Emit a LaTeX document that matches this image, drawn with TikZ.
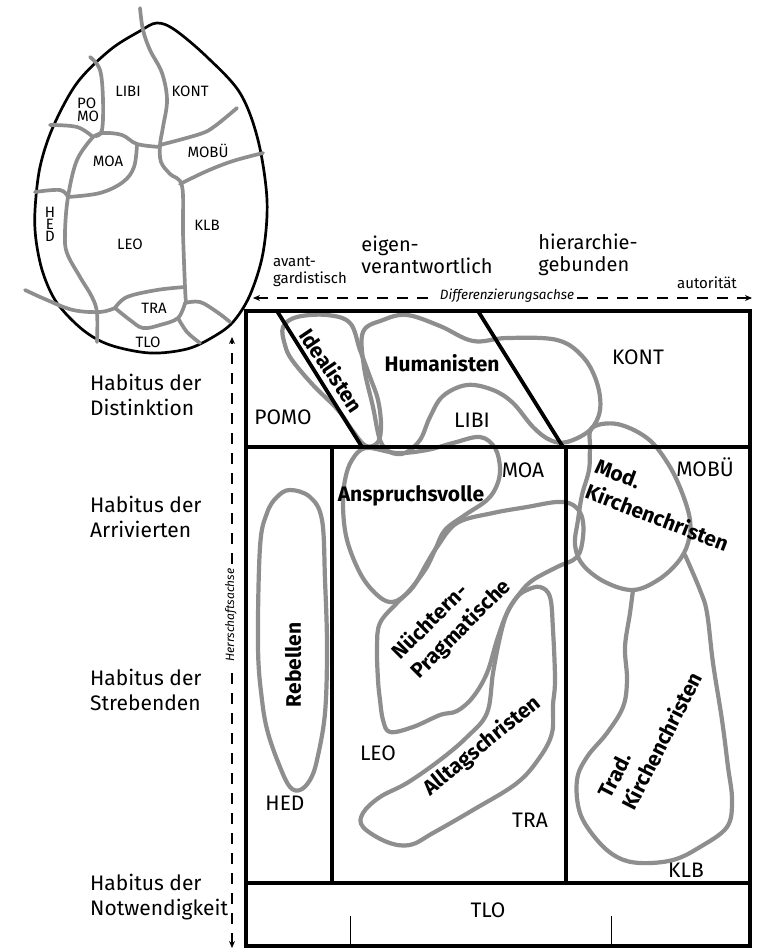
\documentclass[tikz,border=0pt]{standalone}
\usepackage{fontspec}
\setmainfont{Fira Sans}
\usetikzlibrary{arrows.meta}
\definecolor{blobgray}{HTML}{8E8E8E}
\begin{document}
\begin{tikzpicture}[x=1pt,y=-1pt,
  blob/.style={draw=blobgray,line width=4.2pt,line join=round,line cap=round},
  eggline/.style={draw=blobgray,line width=3.7pt,line cap=round,line join=round},
  frame/.style={draw=black,line width=4.2pt},
  axisline/.style={draw=black,line width=1.1pt,dash pattern=on 11pt off 9pt,{Stealth[length=7pt,width=6pt]}-{Stealth[length=7pt,width=6pt]}},
  lab/.style={font=\fontsize{21}{22}\selectfont,inner sep=0pt},
  blab/.style={font=\fontsize{21}{27}\selectfont\bfseries,inner sep=0pt,align=left},
  elab/.style={font=\fontsize{15}{15}\selectfont,inner sep=0pt},
  hlab/.style={font=\fontsize{21}{25}\selectfont,inner sep=0pt,align=left,anchor=west},
  toplab/.style={font=\fontsize{20}{22}\selectfont,inner sep=0pt,align=left},
  smlab/.style={font=\fontsize{15}{17}\selectfont,inner sep=0pt,align=left},
  axlab/.style={font=\fontsize{13.5}{14}\selectfont\itshape,inner sep=3pt,fill=white}]
\useasboundingbox (0,0) rectangle (757,952);

% ---------- egg ----------
\draw[line width=2.7pt,line join=round] plot[smooth cycle,tension=0.55] coordinates {
 (157,23) (175,30) (207,57) (240,93) (258,140) (267,200) (263,253) (250,295)
 (233,322) (213,337) (187,349) (150,353) (110,345) (83,330) (57,303) (43,273)
 (36,240) (35,210) (40,167) (53,127) (77,83) (110,50) (140,31)};
\draw[eggline] plot[smooth,tension=0.6] coordinates {(140,8) (143,30) (150,50) (162,73) (167,100) (163,127) (160,145) (161,162) (170,174) (182,186) (183,233) (185,287) (186,303)};
\draw[eggline] plot[smooth,tension=0.6] coordinates {(160,145) (200,134) (215,126) (237,108)};
\draw[eggline] plot[smooth,tension=0.6] coordinates {(180,184) (207,171) (233,161) (263,153)};
\draw[eggline] plot[smooth,tension=0.6] coordinates {(160,147) (137,144) (122,135) (103,133) (93,137)};
\draw[eggline] plot[smooth,tension=0.6] coordinates {(137,144) (134,167) (123,182) (100,193) (68,197)};
\draw[eggline] plot[smooth,tension=0.6] coordinates {(93,137) (77,160) (68,197) (65,233) (67,253) (80,277) (92,297) (97,313) (97,342)};
\draw[eggline] plot[smooth,tension=0.6] coordinates {(90,57) (100,70) (103,100) (102,130) (96,136)};
\draw[eggline] plot[smooth,tension=0.6] coordinates {(50,125) (77,127) (93,137)};
\draw[eggline] plot[smooth,tension=0.6] coordinates {(35,192) (60,190) (68,197)};
\draw[eggline] plot[smooth,tension=0.6] coordinates {(25,290) (47,300) (73,310) (100,312) (115,308)};
\draw[eggline] plot[smooth,tension=0.6] coordinates {(115,308) (127,297) (157,290) (185,287)};
\draw[eggline] plot[smooth,tension=0.6] coordinates {(115,308) (130,320) (143,328) (160,325) (178,318) (185,303)};
\draw[eggline] plot[smooth,tension=0.6] coordinates {(185,303) (200,302) (217,312) (230,322)};
\draw[eggline] plot[smooth,tension=0.6] coordinates {(178,318) (187,332) (200,343)};

\node[elab] (eLIBI) at (128,91) {LIBI};
\node[elab] (eKONT) at (190,91) {KONT};
\node[elab,align=left] (ePOMO) at (88,110) {PO\\[-2pt]MO};
\node[elab] (eMOA) at (108,161) {MOA};
\node[elab] (eMOBU) at (208,151) {MOBÜ};
\node[elab] (eKLB) at (207,225) {KLB};
\node[elab] (eLEO) at (130,244) {LEO};
\node[elab,align=center] (eHED) at (50,224) {H\\[-3pt]E\\[-3pt]D};
\node[elab] (eTRA) at (154,308) {TRA};
\node[elab] (eTLO) at (148,342) {TLO};

% ---------- header ----------
\node[smlab] (avant) at (310,272) {avant-\\gardistisch};
\node[toplab] (eigen) at (427,255) {eigen-\\verantwortlich};
\node[toplab] (hier) at (588,255) {hierarchie-\\gebunden};
\node[smlab] (auto) at (707,283) {autorität};
\coordinate (dL) at (253,298);
\coordinate (dR) at (752,298);
\draw[axisline] (dL) -- (dR);
\node[axlab] (diff) at (507,296) {Differenzierungsachse};

% ---------- vertical axis ----------
\coordinate (hT) at (232,337);
\coordinate (hB) at (232,948);
\draw[axisline] (hB) -- (hT);
\node[axlab,font=\fontsize{12}{12}\selectfont\itshape,rotate=90] (herr) at (231,615) {Herrschaftsachse};

\node[hlab] (h1) at (90,395) {Habitus der\\Distinktion};
\node[hlab] (h2) at (90,517) {Habitus der\\Arrivierten};
\node[hlab] (h3) at (90,690) {Habitus der\\Strebenden};
\node[hlab] (h4) at (90,897) {Habitus der\\Notwendigkeit};

% ---------- blobs ----------
\draw[blob] plot[smooth cycle,tension=0.6] coordinates {(283,327) (297,317) (327,315) (350,323) (360,350) (370,377) (378,400) (381,425) (378,442) (366,446) (352,430) (338,410) (313,385) (292,360) (285,345)};
\draw[blob] plot[smooth cycle,tension=0.6] coordinates {(363,332) (383,320) (407,315) (440,326) (473,341) (507,338) (557,340) (583,357) (597,383) (600,410) (590,430) (567,442) (550,440) (533,427) (513,403) (493,390) (467,385) (443,396) (430,417) (420,440) (405,453) (390,452) (380,440) (373,407) (364,367)};
\draw[blob] plot[smooth cycle,tension=0.6] coordinates {(352,460) (366,448) (397,453) (427,450) (453,443) (480,437) (495,448) (500,468) (497,485) (487,500) (465,515) (445,530) (435,550) (425,570) (405,595) (390,602) (375,593) (360,573) (347,540) (343,507) (345,480)};
\draw[blob] plot[smooth cycle,tension=0.6] coordinates {(437,547) (457,523) (493,513) (527,507) (557,502) (573,505) (582,517) (583,537) (577,557) (557,567) (533,580) (520,593) (507,613) (497,640) (487,673) (473,697) (457,711) (440,715) (413,727) (390,732) (383,720) (380,700) (378,680) (377,647) (380,623) (397,603) (413,587) (427,563)};
\draw[blob] plot[smooth cycle,tension=0.6] coordinates {(527,590) (540,587) (550,597) (553,630) (555,680) (553,705) (552,733) (540,757) (517,783) (473,810) (433,833) (410,845) (387,842) (363,827) (363,813) (380,797) (407,783) (440,760) (467,737) (487,713) (493,673) (500,637) (507,613) (517,597)};
\draw[blob] plot[smooth cycle,tension=0.6] coordinates {(290,490) (310,497) (322,520) (325,580) (327,647) (325,713) (317,760) (310,780) (300,790) (290,787) (280,767) (268,733) (262,700) (258,647) (260,547) (267,513) (277,497)};
\draw[blob] plot[smooth cycle,tension=0.6] coordinates {(592,428) (617,424) (647,438) (667,462) (681,490) (690,520) (688,543) (678,562) (658,580) (633,590) (605,582) (583,565) (575,545) (578,520) (582,495) (589,470) (590,448)};
\draw[blob] plot[smooth,tension=0.6] coordinates {(633,590) (630,613) (625,647) (627,680) (623,707) (607,733) (587,757) (577,780) (580,813) (597,840) (617,857) (640,863) (673,860) (700,847) (727,827) (732,800) (728,767) (722,720) (713,663) (707,613) (700,590) (685,555)};

% ---------- frame ----------
\draw[frame] (246,311) rectangle (750,946);
\draw[frame] (246,447) -- (750,447);
\draw[frame] (246,883) -- (750,883);
\draw[frame] (332,447) -- (332,883);
\draw[frame] (566,447) -- (566,883);
\draw[line width=3.8pt] (277,311) -- (362,447);
\draw[line width=3.8pt] (478,311) -- (563,447);
\draw[line width=0.8pt] (350,916) -- (350,946);
\draw[line width=0.8pt] (611,916) -- (611,946);

% ---------- labels ----------
\node[lab] (POMO) at (283,417) {POMO};
\node[lab] (LIBI) at (472,420) {LIBI};
\node[lab] (KONT) at (638,357) {KONT};
\node[lab] (MOA) at (523,470) {MOA};
\node[lab] (MOBU) at (705,467) {MOBÜ};
\node[lab] (LEO) at (378,753) {LEO};
\node[lab] (HED) at (285,803) {HED};
\node[lab] (TRA) at (530,820) {TRA};
\node[lab] (KLB) at (686,870) {KLB};
\node[lab] (TLO) at (488,910) {TLO};

\node[blab] (Hum) at (442,363) {Humanisten};
\node[blab,rotate=-56] (Ideal) at (332,370) {Idealisten};
\node[blab] (Ansp) at (411,496) {Anspruchsvolle};
\node[blab,rotate=90] (Reb) at (293,665) {Rebellen};
\node[blab,rotate=-21] (ModK) at (662,505) {Mod.\\Kirchenchristen};
\node[blab,rotate=45] (Nuech) at (452,620) {Nüchtern-\\Pragmatische};
\node[blab,rotate=39] (Allt) at (482,746) {Alltagschristen};
\node[blab,rotate=63] (TradK) at (650,735) {Trad.\\Kirchenchristen};
\end{tikzpicture}
\end{document}
